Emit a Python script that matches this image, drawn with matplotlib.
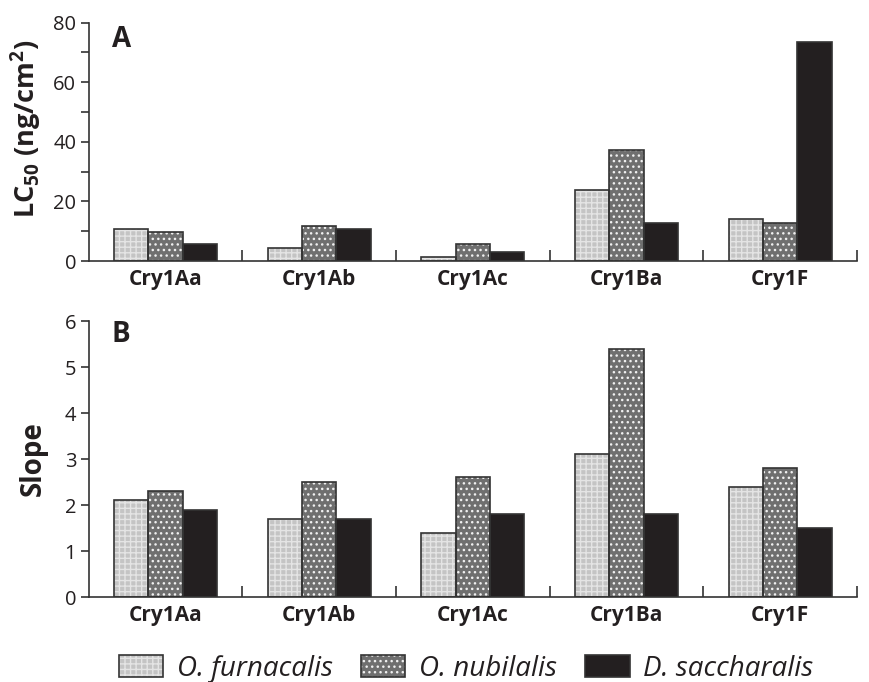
import numpy as np
import matplotlib.pyplot as plt
from matplotlib.patches import Patch
from matplotlib.legend_handler import HandlerTuple

plt.rcParams['font.family'] = ['Open Sans', 'DejaVu Sans']
plt.rcParams['mathtext.fontset'] = 'custom'
plt.rcParams['mathtext.bf'] = 'Open Sans:bold'
plt.rcParams['mathtext.rm'] = 'Open Sans'

toxins = ['Cry1Aa', 'Cry1Ab', 'Cry1Ac', 'Cry1Ba', 'Cry1F']
species = ['O. furnacalis', 'O. nubilalis', 'D. saccharalis']

lc50_furnacalis = [10.8, 4.2, 1.3, 24.0, 14.0]
lc50_nubilalis = [9.7, 11.6, 5.6, 37.2, 12.8]
lc50_saccharalis = [5.8, 10.6, 3.0, 12.7, 73.5]

slope_furnacalis = [2.1, 1.7, 1.4, 3.1, 2.4]
slope_nubilalis = [2.3, 2.5, 2.6, 5.4, 2.8]
slope_saccharalis = [1.9, 1.7, 1.8, 1.8, 1.5]

# fill, hatch, hatch colour for each species
styles = [('#c4c4c4', '+++', '#e4e4e4'),
          ('#6f6f6f', '...', '#f0f0f0'),
          ('#231f20', None, '#231f20')]
edge = '#333333'

fig = plt.figure(figsize=(8.7, 6.82), dpi=100)
axA = fig.add_axes([0.102, 0.6173, 0.883, 0.3494])
axB = fig.add_axes([0.102, 0.1246, 0.883, 0.4047])

x = np.arange(len(toxins)) + 0.5
w = 0.223


def draw(ax, series, ymax, ystep, minor, letter, ly):
    for i, vals in enumerate(series):
        fc, hatch, hc = styles[i]
        pos = x + (i - 1) * w
        ax.bar(pos, vals, w, color=fc, hatch=hatch, edgecolor=hc,
               linewidth=0, zorder=2)
        ax.bar(pos, vals, w, fill=False, edgecolor=edge, linewidth=1.2,
               zorder=3)
    ax.set_xlim(0, len(toxins))
    ax.set_ylim(0, ymax)
    ax.spines['top'].set_visible(False)
    ax.spines['right'].set_visible(False)
    for s in ['left', 'bottom']:
        ax.spines[s].set_color('#333333')
        ax.spines[s].set_linewidth(1.2)
    ax.set_xticks(np.arange(1, len(toxins) + 1))
    ax.set_xticklabels([])
    ax.set_xticks(x, minor=True)
    ax.set_xticklabels(toxins, minor=True, fontsize=15, fontweight='bold',
                       color='#231f20')
    ax.tick_params(axis='x', which='major', direction='in', length=8,
                   color='#333333', width=1.2)
    ax.tick_params(axis='x', which='minor', length=0, pad=6)
    ax.set_yticks(np.arange(0, ymax + 0.01, ystep))
    if minor:
        ax.set_yticks(np.arange(ystep / 2, ymax, ystep), minor=True)
    ax.tick_params(axis='y', which='both', direction='out', length=6,
                   color='#333333', width=1.2, labelsize=14.5, pad=3,
                   labelcolor='#231f20')
    ax.text(0.03, ly, letter, transform=ax.transAxes, fontsize=20,
            fontweight='bold', va='baseline', color='#231f20')


draw(axA, [lc50_furnacalis, lc50_nubilalis, lc50_saccharalis], 80, 20,
     True, 'A', 0.9)
draw(axB, [slope_furnacalis, slope_nubilalis, slope_saccharalis], 6, 1,
     False, 'B', 0.925)

axA.set_ylabel(r'LC$_{\mathbf{50}}$ (ng/cm$^{\mathbf{2}}$)', fontsize=19.5,
               fontweight='bold', color='#231f20')
axA.yaxis.set_label_coords(-0.058, 0.555)
axB.set_ylabel('Slope', fontsize=20, fontweight='bold', color='#231f20')
axB.yaxis.set_label_coords(-0.053, 0.5)

handles = []
for fc, hatch, hc in styles:
    handles.append((Patch(facecolor=fc, hatch=hatch, edgecolor=hc,
                          linewidth=0),
                    Patch(fill=False, edgecolor=edge, linewidth=1.2)))
fig.legend(handles, species, loc='lower center', ncol=3, frameon=False,
           bbox_to_anchor=(0.536, -0.005), borderaxespad=0, borderpad=0.1,
           prop={'style': 'italic', 'size': 20},
           handler_map={tuple: HandlerTuple(ndivide=1, pad=0)},
           handlelength=1.6, handleheight=0.8, columnspacing=1.0,
           handletextpad=0.5, labelcolor='#231f20')

fig.savefig('out.png', dpi=100)
